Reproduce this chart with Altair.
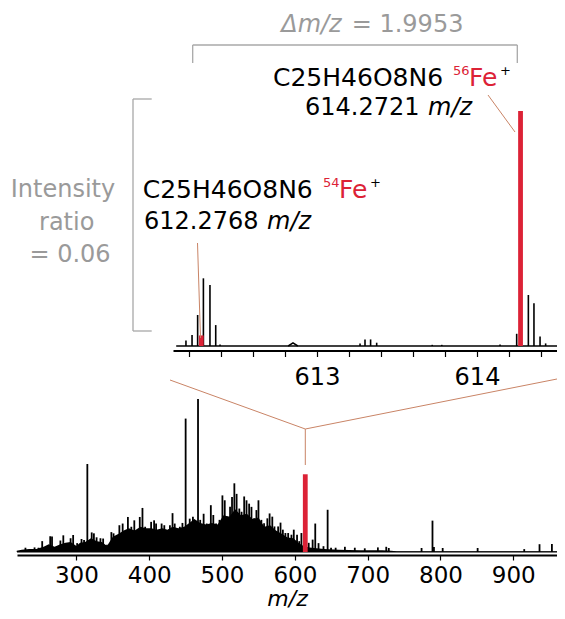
import altair as alt
import pandas as pd

# ---------------- data ----------------
# main spectrum: stick peaks (m/z, relative intensity, tallest = 100)
main_mz = [230, 242.5, 248, 253, 264, 266.5, 278, 282, 288, 292, 295.5, 301, 307, 310.5, 315,
           321, 324, 327.7, 333, 336.7, 342, 348, 351, 356, 359, 363.5, 367, 370.7, 375.4, 379.5,
           383, 387, 390.7, 394.4, 398, 402.6, 406.7, 409.4, 414, 417, 420.7, 424.8, 428.4, 432,
           435, 438, 442, 445.6, 450, 453, 455.6, 460, 467, 470, 474.7, 479, 484.6, 488, 491.8,
           496.5, 500.5, 503.7, 507.8, 511, 513.7, 516.9, 520, 523.7, 526.8, 530.4, 533.6, 537.2,
           540.4, 544, 547.2, 550, 554, 557.7, 562.2, 565.3, 569, 572, 577, 580.3, 583.5, 587,
           590.8, 595.3, 598.5, 603, 606, 609, 619, 624.4, 628, 632.5, 639.3, 645, 649.7, 656,
           668.7, 682.3, 696, 714, 725.5, 729, 774, 789, 791, 803, 851, 915, 936, 953]
main_int = [2.8, 3.0, 2.8, 7.1, 10.3, 10.1, 7.5, 10.9, 5.8, 9.0, 11.1, 5.8, 8.5, 7.9, 57.5,
            12.8, 12.2, 9.6, 9.0, 8.8, 4.7, 13.0, 12.2, 10.4, 17.5, 18.6, 12.2, 22.9, 16.5, 20.7,
            14.3, 22.9, 28.8, 16.5, 14.3, 19.7, 20.7, 18.6, 13.3, 18.6, 17.5, 12.2, 17.5, 25.4,
            18.6, 14.3, 16.5, 19.0, 87.2, 16.5, 21.8, 23.1, 100, 21.0, 25.0, 18.6, 30.6, 24.2, 18.6,
            21.0, 37.0, 33.8, 23.1, 29.5, 35.9, 44.9, 38.0, 28.4, 26.3, 36.3, 33.8, 31.6,
            29.5, 22.0, 27.4, 33.8, 21.0, 18.8, 22.0, 25.2, 23.1, 16.7, 16.7, 19.2, 14.6, 12.4,
            12.4, 11.3, 14.6, 11.3, 7.1, 12.4, 6.0, 8.1, 18.6, 5.8, 3.8, 27.6, 2.8, 2.8,
            3.4, 2.8, 2.4, 3.0, 3.4, 2.6, 2.6, 20.5, 3.2, 2.6, 2.6, 1.9, 5.1, 5.3]
# dense unresolved background under the peaks
env_mz = [218, 225, 235, 245, 255, 262, 270, 278, 285, 292, 300, 305, 312, 320, 328, 335, 342,
          350, 358, 365, 372, 380, 388, 395, 403, 410, 418, 425, 432, 440, 448, 455, 462, 470,
          478, 486, 494, 502, 510, 518, 526, 534, 542, 550, 558, 566, 574, 582, 590, 598, 606,
          612, 620, 630, 640, 660, 690, 720, 732, 740, 960]
env_int = [0.8, 1.5, 2, 2, 3.5, 5, 3.5, 5, 6, 6.5, 4, 6, 6.5, 9, 7, 6.5, 4,
           10, 12, 14, 15.5, 14, 16.5, 15.5, 15.5, 14.5, 15.5, 14.5, 16.5, 15.5, 16.5, 19, 21.5, 19,
           18, 19, 18, 24, 23, 28, 24, 25, 21.5, 22.5, 16.5, 17.5, 14, 12, 9.5, 9, 5.5,
           4, 3, 2.5, 2, 1.5, 1.2, 1.2, 0.8, 0.5, 0.5]
main_base_mz = [218.4, 960]
main_red_mz = [614.3]
main_red_int = [50.8]
main_ticks = [300, 400, 500, 600, 700, 800, 900]

# zoomed inset (relative to the 56Fe peak = 100)
inset_mz = [612.181, 612.219, 612.254, 612.29, 612.331, 612.367, 612.394, 613.269, 613.3,
            613.335, 613.373, 613.72, 613.78, 614.144, 614.248, 614.321, 614.356, 614.394, 614.429]
inset_int = [2.3, 4.7, 13.2, 28.8, 26.0, 8.9, 0.6, 1.1, 2.8,
             2.8, 1.4, 0.5, 0.5, 0.6, 5.2, 21.7, 18.2, 4.0, 1.1]
inset_red_mz = [612.2768, 614.2721]
inset_red_int = [4.5, 100]
inset_bump_mz = [612.82, 612.85, 612.88]
inset_bump_int = [0, 1.3, 0]
inset_base_mz = [612.12, 614.5]
inset_ticks = [612.2, 612.4, 612.6, 612.8, 613, 613.2, 613.4, 613.6, 613.8, 614, 614.2, 614.4]

# ---------------- styles ----------------
FONT = "DejaVu Sans"
RED = "#dc2236"
GRAY = "#9a9a9a"
GRAYL = "#a8a8a8"
LEAD = "#c98466"
W, H = 549, 547


def MX():
    return alt.Scale(domain=[218.4, 960], range=[9, 549], nice=False, zero=False)


def MY():
    return alt.Scale(domain=[0, 100], range=[544, 391], nice=False, zero=False)


def IX():
    return alt.Scale(domain=[612.1, 614.5], range=[165, 549], nice=False, zero=False)


def IY():
    return alt.Scale(domain=[0, 100], range=[338, 103], nice=False, zero=False)


main_axis = alt.Axis(orient="bottom", values=main_ticks, format="d", title="m/z",
                     titleFont=FONT, titleFontSize=22, titleFontStyle="italic",
                     titleFontWeight="normal", titleColor="black", titleY=50.5,
                     titleBaseline="alphabetic",
                     labelFont=FONT, labelFontSize=23, labelColor="black", labelPadding=4,
                     labelFlush=False, labelOverlap=False, tickSize=5, tickColor="black",
                     tickWidth=1.2, domainColor="black", domainWidth=1.8, grid=False)
inset_axis = alt.Axis(orient="bottom", offset=-204.5, values=inset_ticks, title=None,
                      format=".0f",
                      labelExpr="datum.value == 613 || datum.value == 614 ? datum.label : ''",
                      labelFont=FONT, labelFontSize=24, labelColor="black", labelPadding=9,
                      labelFlush=False, labelOverlap=False, tickSize=6, tickColor="black",
                      tickWidth=1.2, domainColor="black", domainWidth=1.8, grid=False)

main_df = pd.DataFrame({"mz": main_mz, "inten": main_int})
env_df = pd.DataFrame({"mz": env_mz, "inten": env_int})
mbase_df = pd.DataFrame({"mz": main_base_mz, "inten": [0] * len(main_base_mz)})
mred_df = pd.DataFrame({"mz": main_red_mz, "inten": main_red_int})
inset_df = pd.DataFrame({"mz": inset_mz, "inten": inset_int})
ired_df = pd.DataFrame({"mz": inset_red_mz, "inten": inset_red_int})
ibump_df = pd.DataFrame({"mz": inset_bump_mz, "inten": inset_bump_int})
ibase_df = pd.DataFrame({"mz": inset_base_mz, "inten": [0] * len(inset_base_mz)})

# ---------------- main spectrum ----------------
m_env = alt.Chart(env_df).mark_area(color="black").encode(
    x=alt.X("mz:Q", scale=MX(), axis=None), y=alt.Y("inten:Q", scale=MY(), axis=None))
m_base = alt.Chart(mbase_df).mark_line(color="black", strokeWidth=1.2).encode(
    x=alt.X("mz:Q", scale=MX(), axis=None), y=alt.Y("inten:Q", scale=MY(), axis=None))
m_peaks = alt.Chart(main_df).mark_rule(color="black", strokeWidth=1.8).encode(
    x=alt.X("mz:Q", scale=MX(), axis=main_axis), y=alt.Y("inten:Q", scale=MY(), axis=None),
    y2=alt.datum(0))
m_red = alt.Chart(mred_df).mark_rule(color=RED, strokeWidth=4.8).encode(
    x=alt.X("mz:Q", scale=MX(), axis=None), y=alt.Y("inten:Q", scale=MY(), axis=None),
    y2=alt.datum(0))

# ---------------- inset ----------------
i_base = alt.Chart(ibase_df).mark_line(color="black", strokeWidth=1.5).encode(
    x=alt.X("mz:Q", scale=IX(), axis=None), y=alt.Y("inten:Q", scale=IY(), axis=None))
i_bump = alt.Chart(ibump_df).mark_line(color="black", strokeWidth=1.5).encode(
    x=alt.X("mz:Q", scale=IX(), axis=None), y=alt.Y("inten:Q", scale=IY(), axis=None))
i_peaks = alt.Chart(inset_df).mark_rule(color="black", strokeWidth=1.6).encode(
    x=alt.X("mz:Q", scale=IX(), axis=inset_axis), y=alt.Y("inten:Q", scale=IY(), axis=None),
    y2=alt.datum(0))
i_red = alt.Chart(ired_df).mark_rule(color=RED, strokeWidth=4.8).encode(
    x=alt.X("mz:Q", scale=IX(), axis=None), y=alt.Y("inten:Q", scale=IY(), axis=None),
    y2=alt.datum(0))

# ---------------- annotation lines (pixel positions) ----------------
JX = 297.3
segments = [
    (184.7, 37, 509.3, 37, GRAYL, 1.3),
    (184.7, 37, 184.7, 55, GRAYL, 1.3),
    (509.3, 37, 509.3, 55, GRAYL, 1.3),
    (125, 91, 125, 323, GRAYL, 1.3),
    (125, 91, 143.7, 91, GRAYL, 1.3),
    (125, 323, 143.7, 323, GRAYL, 1.3),
    (480, 87, 507, 124, LEAD, 1.0),
    (189.5, 235, 192.5, 330, LEAD, 1.0),
    (162, 372, JX, 421, LEAD, 1.0),
    (JX, 421, 549, 371, LEAD, 1.0),
    (JX, 421, JX, 457, LEAD, 1.0),
]
seg_df = pd.DataFrame(segments, columns=["x", "y", "x2", "y2", "c", "w"])
seg_layer = alt.Chart(seg_df).mark_rule().encode(
    x=alt.X("x:Q", scale=None, axis=None), y=alt.Y("y:Q", scale=None, axis=None),
    x2="x2:Q", y2="y2:Q",
    color=alt.Color("c:N", scale=None, legend=None),
    strokeWidth=alt.StrokeWidth("w:Q", scale=None, legend=None))


def text_layer(items, align, style):
    df = pd.DataFrame(items, columns=["t", "x", "y", "s", "c"])
    return alt.Chart(df).mark_text(align=align, baseline="middle", font=FONT,
                                   fontStyle=style).encode(
        x=alt.X("x:Q", scale=None, axis=None), y=alt.Y("y:Q", scale=None, axis=None),
        text="t:N",
        size=alt.Size("s:Q", scale=None, legend=None),
        color=alt.Color("c:N", scale=None, legend=None))


t_left = text_layer([
    ("C25H46O8N6", 265, 70, 25, "black"),
    ("56", 445, 63, 13, RED),
    ("Fe", 461, 70, 25, RED),
    ("+", 492, 63, 13, "black"),
    ("614.2721", 297, 100, 24, "black"),
    ("C25H46O8N6", 134.7, 182, 25, "black"),
    ("54", 315, 175, 13, RED),
    ("Fe", 331, 182, 25, RED),
    ("+", 362, 175, 13, "black"),
    ("612.2768", 136, 214, 24, "black"),
    ("= 1.9953", 343.7, 17, 24, GRAY),
], "left", "normal")
t_italic = text_layer([
    ("m/z", 420, 100, 24, "black"),
    ("m/z", 259, 214, 24, "black"),
], "left", "italic")
t_delta = text_layer([("\u0394m/z", 333.7, 17, 24, GRAY)], "right", "italic")
t_center = text_layer([
    ("Intensity", 55, 182, 24, GRAY),
    ("ratio", 58.7, 215, 24, GRAY),
    ("= 0.06", 62, 247, 24, GRAY),
], "center", "normal")

chart = alt.layer(m_env, m_base, m_peaks, m_red, i_base, i_bump, i_peaks, i_red,
                  seg_layer, t_left, t_italic, t_delta, t_center
                  ).resolve_scale(
    x="independent", y="independent", color="independent", size="independent",
    strokeWidth="independent"
).resolve_axis(x="independent", y="independent").properties(
    width=W, height=H,
    autosize=alt.AutoSizeParams(type="none"),
    padding={"left": 0, "top": 0, "right": 0, "bottom": 56},
).configure_view(stroke=None)

chart.save("out.html", embed_options={"renderer": "svg", "actions": False})
